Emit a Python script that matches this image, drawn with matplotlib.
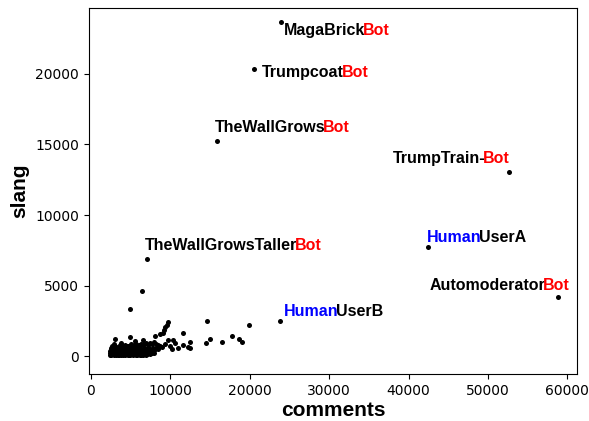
import matplotlib
matplotlib.use("Agg")
import matplotlib.pyplot as plt

# Labelled accounts
lab_first = ["MagaBrick", "Trumpcoat", "TheWallGrows", "TrumpTrain-", "Human",
             "Automoderator", "TheWallGrowsTaller", "Human"]
lab_second = ["Bot", "Bot", "Bot", "Bot", "UserA", "Bot", "Bot", "UserB"]
lab_colors = [("black", "red"), ("black", "red"), ("black", "red"), ("black", "red"),
              ("blue", "black"), ("black", "red"), ("black", "red"), ("blue", "black")]
lab_comments = [23960, 20560, 15890, 52710, 42500, 58890, 7060, 23830]
lab_slang = [23690, 20360, 15250, 13050, 7730, 4180, 6880, 2480]
lab_offsets = [(3, -13.5), (8, -8.5), (-2, 8.5), (-117, 8.5), (-1, 5.5), (-129, 7.5), (-2, 8.5), (4, 5.5)]

# Dense cluster of ordinary accounts
low_c = [2450, 2600, 2780, 2950, 3120, 3300, 3480, 3650, 3820, 4000, 4180, 4350, 4530, 4700, 4880,
         5050, 5230, 5400, 5580, 5750, 5930, 6100, 6280, 6450, 6630, 6800, 7000, 7250, 7500]
low_s = [180, 120, 220, 150, 250, 110, 200, 170, 260, 140, 230, 190, 120, 280, 210,
         160, 240, 130, 270, 200, 150, 300, 180, 260, 220, 190, 280, 240, 310]
low2_c = [2380, 2520, 2690, 2860, 3030, 3210, 3390, 3560, 3730, 3910, 4090, 4270, 4440, 4620, 4790,
          4960, 5140, 5320, 5490, 5670, 5840, 6010, 6190, 6370, 6540, 6720, 6900, 7120, 7380, 7650, 7900]
low2_s = [90, 60, 110, 70, 120, 80, 50, 100, 70, 110, 60, 90, 130, 70, 100,
          60, 120, 80, 110, 70, 90, 130, 60, 100, 80, 120, 70, 110, 150, 180, 220]
mid_c = [2420, 2580, 2720, 2900, 3060, 3250, 3400, 3580, 3760, 3900, 4080, 4260, 4420, 4600, 4780,
         4950, 5120, 5300, 5480, 5660, 5840, 6020, 6200, 6380, 6560, 6740, 6920, 7100, 7300, 7550,
         7800, 8050, 8300]
mid_s = [380, 450, 330, 500, 420, 360, 520, 440, 390, 480, 350, 540, 410, 470, 380,
         520, 450, 400, 560, 430, 500, 370, 540, 460, 410, 580, 480, 520, 600, 450,
         560, 500, 620]
mid2_c = [2480, 2650, 2820, 2990, 3160, 3340, 3510, 3690, 3860, 4040, 4220, 4390, 4570, 4740, 4910,
          5090, 5270, 5440, 5620, 5790, 5970, 6150, 6320, 6500, 6680, 6860, 7050, 7350, 7650, 7950, 8500]
mid2_s = [300, 340, 410, 290, 360, 310, 380, 330, 300, 370, 320, 400, 340, 310, 390,
          330, 370, 310, 400, 350, 330, 420, 360, 390, 340, 410, 380, 440, 400, 420, 480]
high_c = [2500, 2700, 2850, 3050, 3200, 3400, 3600, 3750, 3950, 4150, 4300, 4500, 4700, 4850, 5050,
          5250, 5450, 5650, 5850, 6050, 6250, 6500, 6700, 6900, 7150, 7400, 7650, 7900, 8150, 8400,
          8700, 9000, 9300]
high_s = [600, 680, 560, 720, 640, 600, 760, 650, 700, 620, 780, 680, 740, 660, 820,
          700, 760, 850, 720, 800, 880, 760, 840, 900, 780, 950, 820, 1000, 880, 760,
          700, 650, 820]
spread_c = [3030, 4920, 8070, 8700, 9080, 9240, 9330, 9540, 9750, 10380, 9750, 11010, 11640, 12480,
            12480, 11600, 12270, 14590, 15000, 14450, 16480, 17740, 18700, 19000, 19970, 4920, 6390,
            10000, 10600, 10200, 5600, 6600, 3800, 2900]
spread_s = [1230, 1370, 1440, 1540, 1630, 1840, 2080, 2200, 2390, 1130, 1130, 540, 780, 970,
            590, 1610, 610, 2480, 1200, 900, 1010, 1440, 1180, 970, 2200, 3310, 4630,
            700, 900, 500, 1050, 1100, 950, 880]

fig = plt.figure(figsize=(5.89, 4.21), dpi=100)
ax = fig.add_axes([0.151, 0.1116, 0.829, 0.8694])

all_c = low_c + low2_c + mid_c + mid2_c + high_c + spread_c + lab_comments
all_s = low_s + low2_s + mid_s + mid2_s + high_s + spread_s + lab_slang
ax.scatter(all_c, all_s, s=13, color="black", linewidths=0, zorder=3)

ax.set_xlim(-250, 61250)
ax.set_ylim(-1277, 24680)
ax.set_xticks([0, 10000, 20000, 30000, 40000, 50000, 60000])
ax.set_yticks([0, 5000, 10000, 15000, 20000])
ax.set_xlabel("comments", fontsize=15, fontweight="bold", family="Liberation Sans", labelpad=2)
ax.set_ylabel("slang", fontsize=15, fontweight="bold", family="Liberation Sans", labelpad=4)

tp = dict(fontsize=11.5, fontweight="bold", family="Liberation Sans",
          textcoords="offset pixels", va="baseline", ha="left")
firsts = []
for a, (ca, cb), x, y, off in zip(lab_first, lab_colors, lab_comments, lab_slang, lab_offsets):
    firsts.append(ax.annotate(a, (x, y), xytext=off, color=ca, **tp))

fig.canvas.draw()
renderer = fig.canvas.get_renderer()
for t, b, (ca, cb), x, y, off in zip(firsts, lab_second, lab_colors, lab_comments, lab_slang, lab_offsets):
    w = t.get_window_extent(renderer).width
    ax.annotate(b, (x, y), xytext=(off[0] + w - 2.5, off[1]), color=cb, **tp)

fig.savefig("out.png", dpi=100)
